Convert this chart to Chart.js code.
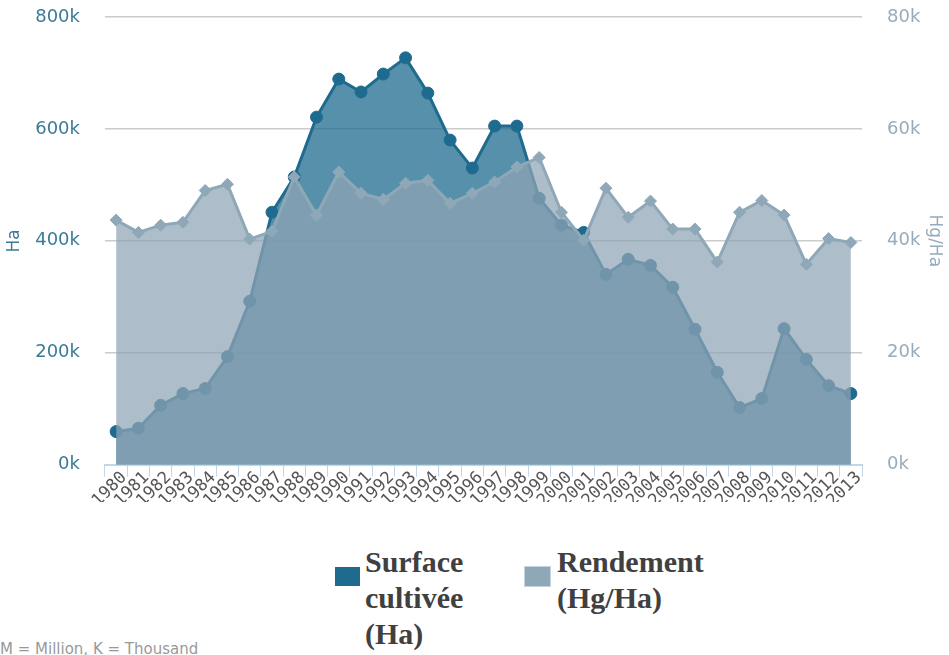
<!DOCTYPE html>
<html>
<head>
<meta charset="utf-8">
<script src="https://cdn.jsdelivr.net/npm/chart.js@4/dist/chart.umd.min.js"></script>
<style>
  html, body { margin: 0; padding: 0; background: #fff; }
  #wrap { position: relative; width: 949px; height: 655px; overflow: hidden; }
  #cv { position: absolute; left: 0; top: 0; }
  .leg { position: absolute; font-family: "Liberation Serif", "Times New Roman", serif; font-weight: bold; font-size: 30px; line-height: 36px; color: #404040; }
  .box { position: absolute; width: 25px; height: 19px; }
  #note { position: absolute; left: 0; top: 640px; font-family: "DejaVu Sans", sans-serif; font-size: 15px; color: #999; white-space: nowrap; }
</style>
</head>
<body>
<div id="wrap">
  <canvas id="cv" width="949" height="502"></canvas>
  <div class="box" style="left:335px; top:567px; background:#1f6b8f;"></div>
  <div class="leg" style="left:365px; top:544px;">Surface<br>cultivée<br>(Ha)</div>
  <div class="box" style="left:525px; top:567px; background:#8fa8b8; outline:1px solid #c5d3dd;"></div>
  <div class="leg" style="left:557px; top:544px;">Rendement<br>(Hg/Ha)</div>
  <div id="note">M = Million, K = Thousand</div>
</div>
<script>
const years = ["1980","1981","1982","1983","1984","1985","1986","1987","1988","1989","1990","1991","1992","1993","1994","1995","1996","1997","1998","1999","2000","2001","2002","2003","2004","2005","2006","2007","2008","2009","2010","2011","2012","2013"];
const surfaceHa = [59000,65000,106000,127000,136000,193000,292000,451000,514000,621000,689000,666000,698000,727000,664000,580000,530000,605000,605000,476000,428000,415000,340000,367000,356000,317000,242000,165000,102000,118000,243000,188000,141000,127000];
const rendementHgHa = [43700,41500,42800,43300,49000,50100,40300,41700,51400,44600,52300,48500,47400,50300,50800,46700,48500,50500,53200,54900,45100,40100,49400,44200,47100,42100,42100,36200,45100,47200,44600,35800,40400,39700];
const labelSurface = "Surface cultivée (Ha)";
const labelRendement = "Rendement (Hg/Ha)";

const fmtK = v => (v / 1000) + 'k';

new Chart(document.getElementById('cv'), {
  type: 'line',
  data: {
    labels: years,
    datasets: [
      {
        label: labelSurface,
        data: surfaceHa,
        yAxisID: 'yL',
        order: 2,
        borderColor: '#1f6b8f',
        backgroundColor: 'rgba(31,107,143,0.75)',
        borderWidth: 3,
        fill: 'origin',
        tension: 0,
        pointStyle: 'circle',
        pointRadius: 6,
        pointBackgroundColor: '#1f6b8f',
        pointBorderColor: '#1f6b8f',
        pointBorderWidth: 1
      },
      {
        label: labelRendement,
        data: rendementHgHa,
        yAxisID: 'yR',
        order: 1,
        borderColor: '#8fa8b8',
        backgroundColor: 'rgba(142,164,181,0.73)',
        borderWidth: 3,
        fill: 'origin',
        tension: 0,
        pointStyle: 'rectRot',
        pointRadius: 6,
        pointBackgroundColor: '#8fa8b8',
        pointBorderColor: '#8fa8b8',
        pointBorderWidth: 1
      }
    ]
  },
  options: {
    responsive: false,
    animation: false,
    layout: { padding: { left: 0, right: 0, top: 17, bottom: 0 } },
    plugins: {
      legend: { display: false },
      tooltip: { enabled: false }
    },
    scales: {
      x: {
        offset: true,
        grid: { display: true, drawOnChartArea: false, drawTicks: true, tickLength: 12, color: '#c5d5e5', offset: true },
        border: { display: true, color: '#c5d5e5', width: 2 },
        ticks: {
          autoSkip: false, maxRotation: 45, minRotation: 45,
          color: '#555', padding: -9, labelOffset: 8,
          font: { family: 'DejaVu Sans Mono', size: 17 }
        }
      },
      yL: {
        position: 'left',
        min: 0, max: 800000,
        afterFit: s => { s.width = 105; s.paddingTop = 0; s.paddingBottom = 0; },
        ticks: { stepSize: 200000, callback: fmtK, color: '#3d7a99', padding: 25, font: { family: 'DejaVu Sans', size: 18 } },
        grid: { color: '#cccccc', lineWidth: 1.5, drawTicks: false },
        border: { display: false },
        title: { display: true, text: 'Ha', color: '#3d7a99', font: { family: 'DejaVu Sans', size: 17 }, padding: { top: 4, bottom: 0 } }
      },
      yR: {
        position: 'right',
        min: 0, max: 80000,
        afterFit: s => { s.width = 87; s.paddingTop = 0; s.paddingBottom = 0; },
        ticks: { stepSize: 20000, callback: fmtK, color: '#96acbc', padding: 25, font: { family: 'DejaVu Sans', size: 18 } },
        grid: { display: false, drawTicks: false },
        border: { display: false },
        title: { display: true, text: 'Hg/Ha', color: '#96acbc', font: { family: 'DejaVu Sans', size: 17 }, padding: { top: 4, bottom: 0 } }
      }
    }
  }
});
</script>
</body>
</html>
